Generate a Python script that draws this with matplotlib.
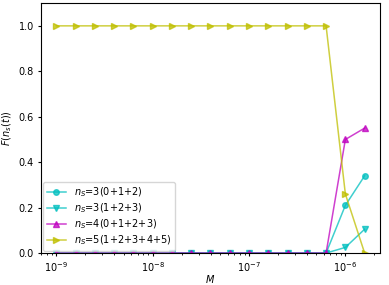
import numpy as np
import matplotlib
matplotlib.use("Agg")
import matplotlib.pyplot as plt

# M values: 10^-9 ... 10^-5.8 in steps of 0.2 decades
M = [1e-9, 1.585e-9, 2.512e-9, 3.981e-9, 6.310e-9,
     1e-8, 1.585e-8, 2.512e-8, 3.981e-8, 6.310e-8,
     1e-7, 1.585e-7, 2.512e-7, 3.981e-7, 6.310e-7,
     1e-6, 1.585e-6]

f_3_012 = [0]*15 + [0.21, 0.34]
f_3_123 = [0]*15 + [0.025, 0.105]
f_4_0123 = [0]*15 + [0.50, 0.55]
f_5_12345 = [1]*15 + [0.26, 0.0]

labels = [r'$n_S$=3(0+1+2)', r'$n_S$=3(1+2+3)',
          r'$n_S$=4(0+1+2+3)', r'$n_S$=5(1+2+3+4+5)']

plt.rcParams['font.size'] = 7
plt.rcParams['xtick.major.size'] = 2.5
plt.rcParams['ytick.major.size'] = 2.5
plt.rcParams['xtick.minor.size'] = 1.5
plt.rcParams['xtick.major.pad'] = 2.5
plt.rcParams['ytick.major.pad'] = 2.5
fig = plt.figure(figsize=(3.89, 2.85), dpi=100)
ax = fig.add_axes([0.105, 0.112, 0.872, 0.877])

kw = dict(lw=1.1, ms=4.0, alpha=0.75)
ax.plot(M, f_3_012, 'c-o', label=labels[0], **kw)
ax.plot(M, f_3_123, 'c-v', label=labels[1], **kw)
ax.plot(M, f_4_0123, 'm-^', label=labels[2], **kw)
ax.plot(M, f_5_12345, 'y->', label=labels[3], **kw)

ax.set_xscale('log')
ax.set_ylim(0, 1.1)
ax.set_xlabel(r'$M$', labelpad=-0.5)
ax.set_ylabel(r'$F(n_s(t))$', labelpad=3)
ax.legend(loc='lower left', borderaxespad=0.25, handlelength=2.0,
          labelspacing=0.25, borderpad=0.35)

fig.savefig('out.png', dpi=100)
